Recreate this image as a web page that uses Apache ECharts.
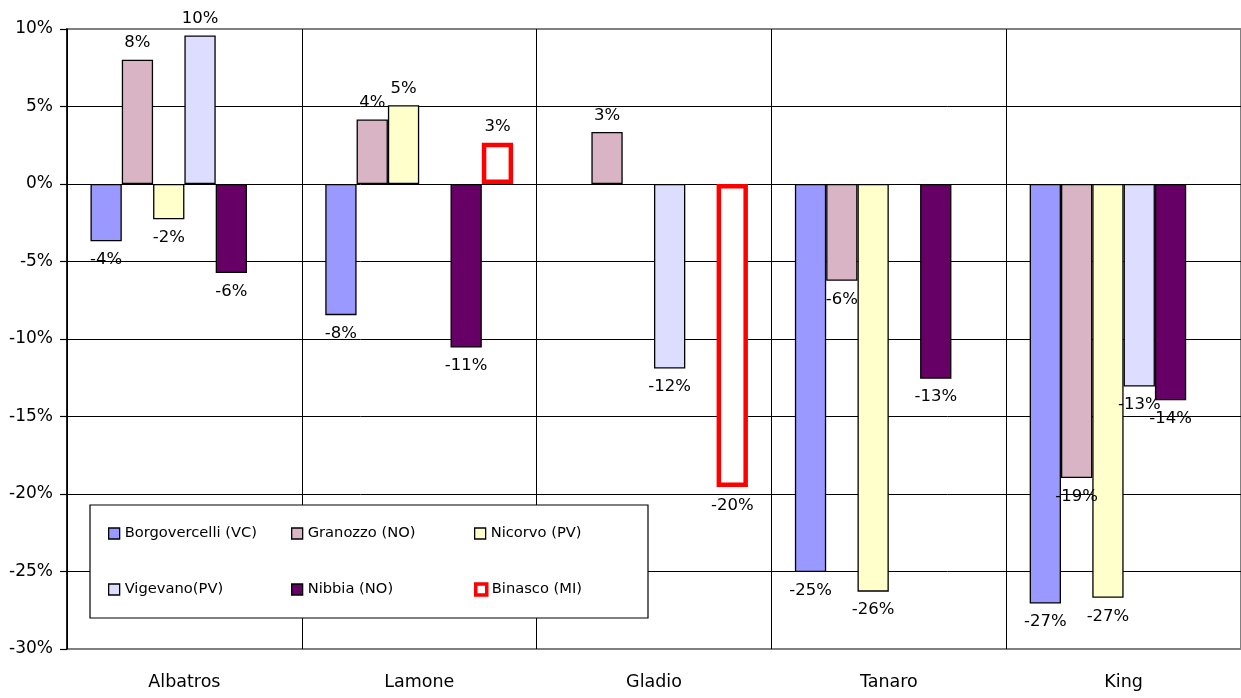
<!DOCTYPE html>
<html>
<head>
<meta charset="utf-8">
<title>Variazione percentuale per varietà</title>
<script src="https://cdn.jsdelivr.net/npm/echarts@6/dist/echarts.min.js"></script>
<style>
  html, body { margin: 0; padding: 0; background: #ffffff; }
  #chart { width: 1241px; height: 698px; }
</style>
</head>
<body>
<div id="chart"></div>
<script>
// Varietà (categorie sull'asse orizzontale)
const categories = ['Albatros', 'Lamone', 'Gladio', 'Tanaro', 'King'];

// Località (serie)
const seriesNames = ['Borgovercelli (VC)', 'Granozzo (NO)', 'Nicorvo (PV)', 'Vigevano(PV)', 'Nibbia (NO)', 'Binasco (MI)'];

// Variazione percentuale per località; null = dato assente
const borgovercelli = [-3.7, -8.46, null, -25.04, -27.07];
const granozzo      = [8.02, 4.16, 3.36, -6.24, -18.97];
const nicorvo       = [-2.27, 5.08, null, -26.3, -26.7];
const vigevano      = [9.58, null, -11.9, null, -13.07];
const nibbia        = [-5.74, -10.55, null, -12.56, -13.95];
const binasco       = [null, 2.66, -19.55, null, null];

// Asse verticale
const yMin = -30, yMax = 10, yStep = 5;

const seriesValues = [borgovercelli, granozzo, nicorvo, vigevano, nibbia, binasco];
const fills   = ['#9999FF', '#D8B4C4', '#FFFFCC', '#DDDDFF', '#660066', '#FFFFFF'];
const borders = ['#000000', '#000000', '#000000', '#000000', '#000000', '#FF0000'];
const borderWidths = [1.3, 1.3, 1.3, 1.3, 1.3, 4.5];

const FONT = 'DejaVu Sans';

function pct(v) { return Math.round(v) + '%'; }

const series = seriesValues.map(function (vals, i) {
  return {
    name: seriesNames[i],
    type: 'bar',
    barGap: '0%',
    barCategoryGap: '20%',
    itemStyle: { color: fills[i], borderColor: borders[i], borderWidth: borderWidths[i] },
    emphasis: { disabled: true },
    data: vals.map(function (v) {
      if (v === null) return '-';
      return {
        value: v,
        label: {
          show: true,
          position: v < 0 ? 'bottom' : 'top',
          distance: v < 0 ? 10 : 8,
          formatter: function (p) { return pct(p.value); },
          color: '#000',
          fontFamily: FONT,
          fontSize: 16.5
        }
      };
    })
  };
});

// Legenda: 3 colonne x 2 righe dentro un riquadro bordato
const legendCols = [108, 291, 474];
const legendRows = [526, 582];

const legends = seriesNames.map(function (n, i) {
  return {
    orient: 'horizontal',
    left: legendCols[i % 3],
    top: legendRows[Math.floor(i / 3)],
    padding: 0,
    itemWidth: 11,
    itemHeight: 11,
    itemGap: 0,
    selectedMode: false,
    z: 20,
    textStyle: { fontFamily: FONT, fontSize: 14.7, color: '#000' },
    data: [{
      name: n,
      icon: 'rect',
      itemStyle: { color: fills[i], borderColor: borders[i], borderWidth: i === 5 ? 3.5 : 1.3 }
    }]
  };
});

// Linee orizzontali: bordo superiore e inferiore grigi, interne nere
const hLineColors = [];
for (let v = yMin; v <= yMax; v += yStep) {
  hLineColors.push(v === yMin || v === yMax ? '#808080' : '#000000');
}

const chart = echarts.init(document.getElementById('chart'), null, { renderer: 'canvas' });

chart.setOption({
  animation: false,
  backgroundColor: '#ffffff',
  grid: {
    left: 67, right: 0, top: 29, bottom: 49,
    show: true, borderColor: '#808080', borderWidth: 2, backgroundColor: 'transparent'
  },
  xAxis: {
    type: 'category',
    data: categories,
    boundaryGap: true,
    axisLine: { show: false, onZero: false },
    axisTick: { show: false },
    splitLine: { show: true, lineStyle: { color: '#000', width: 1 } },
    axisLabel: { fontFamily: FONT, fontSize: 17.5, color: '#000', margin: 24 }
  },
  yAxis: {
    type: 'value',
    min: yMin, max: yMax, interval: yStep,
    axisLine: { show: true, lineStyle: { color: '#000', width: 1.5 } },
    axisTick: { show: true, length: 7, lineStyle: { color: '#000', width: 1.2 } },
    splitLine: { show: true, lineStyle: { color: hLineColors, width: [1] } },
    axisLabel: { fontFamily: FONT, fontSize: 17, color: '#000', margin: 14, formatter: '{value}%' }
  },
  legend: legends,
  graphic: [{
    type: 'rect',
    z: 10,
    shape: { x: 90, y: 505, width: 558, height: 113 },
    style: { fill: '#ffffff', stroke: '#000000', lineWidth: 1.2 }
  }],
  series: series
});
</script>
</body>
</html>
